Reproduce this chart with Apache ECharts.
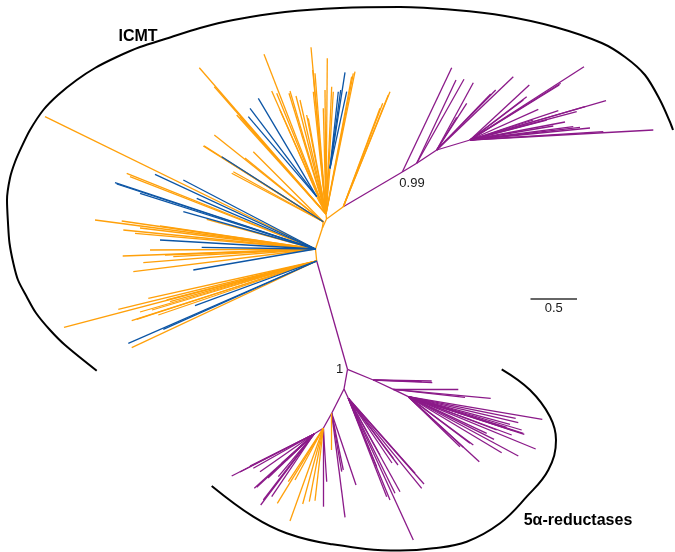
<!DOCTYPE html>
<html><head><meta charset="utf-8">
<script src="https://cdn.jsdelivr.net/npm/echarts@6/dist/echarts.min.js"></script>
<style>html,body{margin:0;padding:0;background:#fff}#c{width:675px;height:552px}</style>
</head><body><div id="c"></div>
<script>
// colour keys
const palette = { o: '#FFA00A', b: '#0C55A5', p: '#8B1A89' };

// internal nodes: [name, x, y, parent, colourKey of branch to parent]
const internalNodes = [
  ['nA', 316.7, 261, null, 'o'],
  ['nB', 315.5, 249, 'nA', 'o'],
  ['nC', 322.3, 228.3, 'nB', 'o'],
  ['nUL', 323.3, 221.7, 'nC', 'o'],
  ['nD', 326.5, 219, 'nC', 'o'],
  ['nTop', 326, 214, 'nD', 'o'],
  ['nE', 343.3, 206.7, 'nD', 'o'],
  ['nBlue1', 330, 168.3, 'nTop', 'o'],
  ['nBlue2', 316.7, 196.7, 'nTop', 'o'],
  ['n099', 402.3, 172, 'nE', 'p'],
  ['nP1', 416.7, 163.3, 'n099', 'p'],
  ['nP2', 436.7, 150, 'nP1', 'p'],
  ['nP3', 470, 140, 'nP2', 'p'],
  ['n1', 347.5, 369.3, 'nA', 'p'],
  ['nR1', 373.3, 380, 'n1', 'p'],
  ['nR2', 393.3, 389.3, 'nR1', 'p'],
  ['nR3', 408.3, 396.7, 'nR2', 'p'],
  ['nBot', 344, 389, 'n1', 'p'],
  ['nDR', 348.3, 398.3, 'nBot', 'p'],
  ['nLB', 331.7, 413.3, 'nBot', 'p'],
  ['nLB2', 323.3, 428.3, 'nLB', 'p'],
  ['nLB3', 314, 434, 'nLB2', 'p']
];

// tip end points, grouped by parent node
const tipsTopOrange = [[199.3,67.7],[214.3,86.7],[264,54.3],[271.7,91],[290,91],[289,93.3],[311,47.3],[312.7,70],[315,73.3],[327.3,58.3],[325,90],[331.7,86.7],[333.3,91.7],[353.3,73.3],[355,71.7],[351.7,76.7],[323.3,108.3],[313.3,91.7],[306.7,115],[308.3,118.3],[280,110],[276.7,93.3],[240,116.7],[236.7,115],[300,100],[296,96]];
const tipsBlue1 = [[345,72.3],[340.7,90],[346.7,91.7],[338.3,91.7]];
const tipsBlue2 = [[258.3,98.3],[250,108.3],[248.3,116.7]];
const tipsEOrange = [[390,91.7],[388.3,95],[382.7,103.3],[380,108.3]];
const tipsULOrange = [[204,145.7],[214.3,135],[253.3,151.7],[233.3,171.7],[231.7,173.3],[203.3,146],[226,160],[245,158]];
const tipsULBlue = [[221.7,156.7]];
const tipsBOrange = [[45,116.7],[126.7,173.3],[130,176.7],[95,220],[121.7,221],[123.3,230],[135,233.3],[206.7,219.3],[160,226],[140,228],[122.7,256],[143.3,262.7],[133.3,271.7],[173.3,256.7],[150,250],[165,255]];
const tipsBBlue = [[115,182.7],[116.7,184],[140,193.3],[155,174.3],[183.3,180],[196.7,198.3],[183.3,211.7],[160,240],[201.7,247.3],[193.3,270]];
const tipsAOrange = [[148.3,298.3],[118.3,309.3],[64,327.3],[131.7,320.7],[158.3,315],[170,301.7],[136.7,319.3],[166.7,300],[131.7,347.7],[140,312],[152,310]];
const tipsABlue = [[195,305.7],[128.3,343.3],[163.3,329.3]];
const tips099 = [[451.7,67.7]];
const tipsP1 = [[456,80],[464,79.3]];
const tipsP2 = [[473.3,82.7],[466.7,103.3],[456.7,117.3],[490.7,94],[495.7,90],[513.3,76.7]];
const tipsP3 = [[584,66.7],[529.3,85],[560.7,83.3],[559.3,85],[538.3,109.3],[523.3,100],[526.7,96.7],[558.3,110.7],[585,106.7],[576.7,111.7],[606,100.7],[580,127.3],[573.3,126.7],[553.3,126],[603.3,131.7],[653.3,130],[533.3,120],[546.7,120],[565,122],[590,128]];
const tipsR1 = [[431.7,381],[432.3,382.7],[421.7,381.7]];
const tipsR2 = [[458.3,389.3],[465,397.3],[490.7,398.3]];
const tipsR3 = [[542.3,419.3],[515.7,418.3],[518.3,422.7],[524.3,434.3],[523.3,433.3],[535.7,449],[518.3,456],[501.7,452.7],[479.3,461.7],[473.3,445],[494,439.3],[463.3,447.3],[511.7,435],[506.7,427.3],[510,424.3],[496.7,430],[486.7,433.3],[460,446.7],[470,443.3],[513.3,430.7],[521.7,430]];
const tipsDR = [[413.3,540],[400,491.7],[390,500],[386.7,496.7],[395,493.3],[421.7,488.3],[424,484],[415,473.3],[393.3,458.3],[380,455],[376.7,466.7],[398,465],[392,463]];
const tipsLB = [[356,485],[345,517.3],[343.3,470],[341.7,471.7]];
const tipsLBOrange = [[331.7,450]];
const tipsLB2 = [[323.3,506.7],[326.7,481.7]];
const tipsLB2Orange = [[277.3,503.3],[290,521],[302.7,504],[309.3,501.7],[315,500.7],[295,480],[288.3,481.7]];
const tipsLB3 = [[231.7,476],[253.3,468.3],[260,471.7],[254.3,488.3],[256.7,487.3],[260.7,505],[263.3,500],[278.3,476.7],[281.7,463.3],[286.7,460],[271.7,496.7],[250,466],[268,478],[240,472]];

const tipGroups = [
  ['nTop','o',tipsTopOrange],['nBlue1','b',tipsBlue1],['nBlue2','b',tipsBlue2],
  ['nE','o',tipsEOrange],['nUL','o',tipsULOrange],['nUL','b',tipsULBlue],
  ['nB','o',tipsBOrange],['nB','b',tipsBBlue],['nA','o',tipsAOrange],['nA','b',tipsABlue],
  ['n099','p',tips099],['nP1','p',tipsP1],['nP2','p',tipsP2],['nP3','p',tipsP3],
  ['nR1','p',tipsR1],['nR2','p',tipsR2],['nR3','p',tipsR3],['nDR','p',tipsDR],
  ['nLB','p',tipsLB],['nLB','o',tipsLBOrange],['nLB2','p',tipsLB2],['nLB2','o',tipsLB2Orange],
  ['nLB3','p',tipsLB3]
];

// clade brackets
const icmtArc = [[96.7,370.7],[65,345],[50,330],[36,313],[26.7,296.7],[18,280],[13.3,263],[9.5,243],[8,223],[7,200],[10,178],[15,162],[21.7,146.7],[30,130],[43.3,110],[58,95],[76.7,80],[95,68],[116.7,57],[140,47],[166.7,38.5],[200,28],[233.3,20],[285,12],[340,8],[400,7],[455,10],[505,16],[555,27],[601.7,43],[625,57],[645,75],[660,100],[670,122],[673,130]];
const redArc = [[211.7,486],[253.3,516.7],[286.7,533.3],[330,544],[400,550.5],[433.3,548.3],[466.7,541.7],[500,523.3],[526.7,496.7],[548.3,470],[556,440],[550,416.7],[530,390],[501.7,369.3]];

// scale bar: 0.5 substitutions per site
const scaleBar = { x0: 530.5, length: 46.5, y: 298.3, label: '0.5' };
const supportLabels = [['0.99', 412, 183], ['1', 339.5, 369]];
const cladeLabels = [['ICMT', 138, 37], ['5α-reductases', 578, 521]];

const FONT = "'Liberation Sans', Arial, sans-serif";
const nodeMap = {};
internalNodes.forEach(n => nodeMap[n[0]] = n);
const segs = [];
internalNodes.forEach(n => {
  if (n[3]) { const p = nodeMap[n[3]]; segs.push({ coords: [[p[1], p[2]], [n[1], n[2]]], lineStyle: { color: palette[n[4]] } }); }
});
tipGroups.forEach(g => {
  const p = nodeMap[g[0]];
  g[2].forEach(t => segs.push({ coords: [[p[1], p[2]], t], lineStyle: { color: palette[g[1]] } }));
});

const chart = echarts.init(document.getElementById('c'), null, { renderer: 'canvas' });
chart.setOption({
  animation: false,
  backgroundColor: '#fff',
  grid: { left: 0, right: 0, top: 0, bottom: 0 },
  xAxis: { type: 'value', min: 0, max: 675, show: false },
  yAxis: { type: 'value', min: 0, max: 552, inverse: true, show: false },
  series: [
    { type: 'line', data: icmtArc, smooth: 0.3, symbol: 'none', lineStyle: { color: '#000', width: 2 }, z: 1 },
    { type: 'line', data: redArc, smooth: 0.4, symbol: 'none', lineStyle: { color: '#000', width: 2 }, z: 1 },
    { type: 'lines', coordinateSystem: 'cartesian2d', data: segs, lineStyle: { width: 1.3, opacity: 1 }, z: 2 },
    { type: 'lines', coordinateSystem: 'cartesian2d',
      data: [{ coords: [[scaleBar.x0, scaleBar.y], [scaleBar.x0 + scaleBar.length, scaleBar.y]] }],
      lineStyle: { color: '#666', width: 2, opacity: 1 }, z: 2 },
    { type: 'scatter', symbolSize: 0, silent: true, z: 3, itemStyle: { opacity: 1 },
      data: supportLabels.map(s => ({ value: [s[1], s[2]], label: { show: true, formatter: s[0], position: 'inside', color: '#1a1a1a', fontSize: 13, fontFamily: FONT, textBorderWidth: 0 } }))
        .concat([{ value: [scaleBar.x0 + scaleBar.length / 2, scaleBar.y + 10], label: { show: true, formatter: scaleBar.label, position: 'inside', color: '#1a1a1a', fontSize: 13, fontFamily: FONT, textBorderWidth: 0 } }])
        .concat(cladeLabels.map(s => ({ value: [s[1], s[2]], label: { show: true, formatter: s[0], position: 'inside', color: '#000', fontSize: 16, fontWeight: 'bold', fontFamily: FONT, textBorderWidth: 0 } })))
    }
  ]
});
</script></body></html>
